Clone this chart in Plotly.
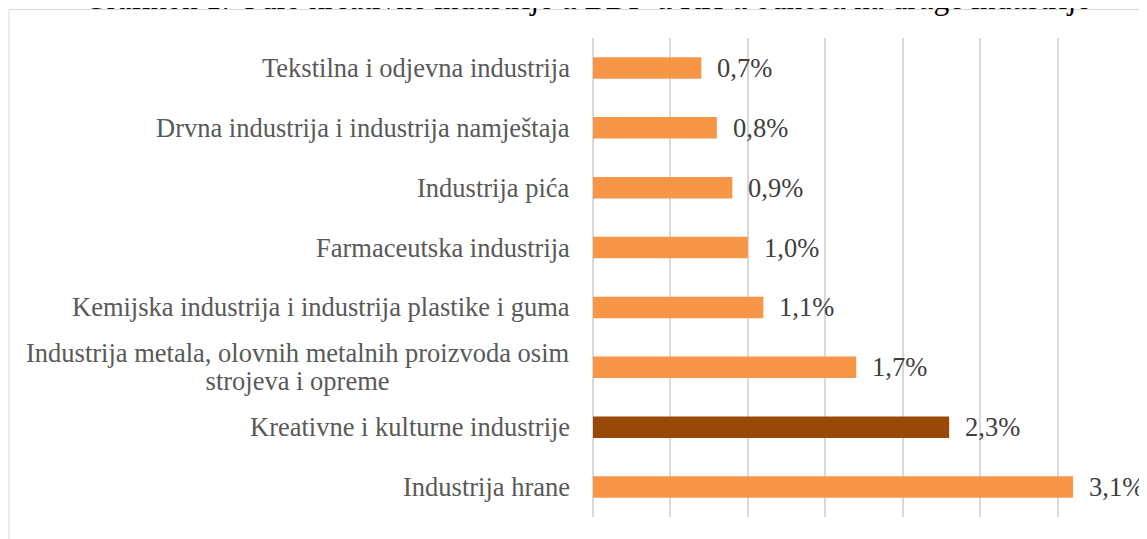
import plotly.graph_objects as go

# Data (bottom to top)
categories = [
    "Industrija hrane",
    "Kreativne i kulturne industrije",
    "Industrija metala, olovnih metalnih proizvoda osim<br>strojeva i opreme",
    "Kemijska industrija i industrija plastike i guma",
    "Farmaceutska industrija",
    "Industrija pića",
    "Drvna industrija i industrija namještaja",
    "Tekstilna i odjevna industrija",
]
values = [3.1, 2.3, 1.7, 1.1, 1.0, 0.9, 0.8, 0.7]
highlight = "Kreativne i kulturne industrije"
title_text = "Grafikon 1: Udio kreativne industrije u BDP-u RH u odnosu na druge industrije"

ORANGE = "#F79646"
DARK = "#984807"
FONT = "Liberation Serif"

colors = [DARK if c == highlight else ORANGE for c in categories]
labels = [f"{v:.1f}".replace(".", ",") + "%" for v in values]

fig = go.Figure(
    go.Bar(
        x=values,
        y=categories,
        orientation="h",
        marker=dict(color=colors, line=dict(width=0)),
        hoverinfo="skip",
    )
)

annotations = []
for c, v, t in zip(categories, values, labels):
    annotations.append(dict(
        x=v, y=c, xref="x", yref="y", text=t, showarrow=False,
        xanchor="left", yanchor="middle", xshift=14,
        font=dict(family=FONT, size=26.5, color="#404040"),
    ))
    # outer font size sets line spacing (~28px); inner span sets glyph size
    styled = "<br>".join(
        f'<span style="font-size:26.5px">{part}</span>' for part in c.split("<br>")
    )
    annotations.append(dict(
        x=0, y=c, xref="paper", yref="y", text=styled, showarrow=False,
        xanchor="right", yanchor="middle", xshift=-21, align="center",
        font=dict(family=FONT, size=21.5, color="#595959"),
    ))

annotations.append(dict(
    x=(587 - 593) / 542, y=1.0415, xref="paper", yref="paper", text=title_text,
    showarrow=False, xanchor="center", yanchor="bottom",
    font=dict(family=FONT, size=31.5, color="#000000"),
))

fig.update_layout(
    width=1139, height=531,
    margin=dict(l=585, r=12, t=30, b=22),
    paper_bgcolor="white", plot_bgcolor="white",
    bargap=0.64,
    showlegend=False,
    annotations=annotations,
    shapes=[dict(
        type="rect", xref="paper", yref="paper",
        x0=(1 - 585) / 542, x1=1.2, y0=-0.3, y1=(509 - 1.5) / 479,
        line=dict(color="#d9d9d9", width=1), fillcolor="rgba(0,0,0,0)", layer="below",
    )],
    xaxis=dict(
        range=[0, 3.5], dtick=0.5, showticklabels=False, showgrid=True,
        gridcolor="#d9d9d9", gridwidth=1.5, zeroline=True, zerolinecolor="#d9d9d9",
        zerolinewidth=1.5, showline=False, fixedrange=True,
    ),
    yaxis=dict(
        showticklabels=False, showgrid=False, zeroline=False, showline=False,
        categoryorder="array", categoryarray=categories, fixedrange=True,
    ),
)

fig.write_html("out.html")
